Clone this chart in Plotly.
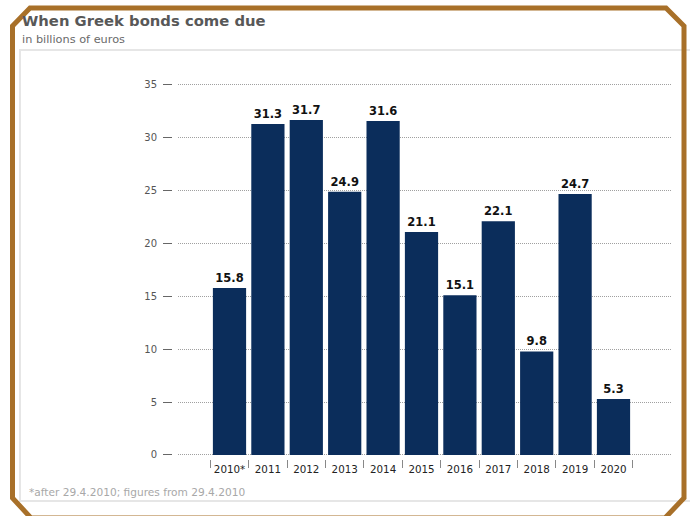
import plotly.graph_objects as go

years = ["2010*", "2011", "2012", "2013", "2014", "2015", "2016", "2017", "2018", "2019", "2020"]
values = [15.8, 31.3, 31.7, 24.9, 31.6, 21.1, 15.1, 22.1, 9.8, 24.7, 5.3]
y_ticks = [0, 5, 10, 15, 20, 25, 30, 35]

W, H = 694, 516
def px(x):
    return x / W
def py(y):
    return 1 - y / H

BAR = "#0b2d5b"
FRAME = "#a87029"
FONT = "DejaVu Sans"

fig = go.Figure()
fig.add_trace(go.Bar(
    x=years, y=values,
    marker=dict(color=BAR, line=dict(width=0)),
    text=[f"{v:.1f}" for v in values],
    textposition="outside",
    textfont=dict(family=FONT, size=11.5, color="#111111", weight="bold"),
    cliponaxis=False,
    hoverinfo="skip",
))

# pixel geometry
y0_px, unit = 455.0, 370.0 / 35.0
ymin, ymax = -0.3, 36.0
dom_bottom = y0_px + (0 - ymin) * unit
dom_top = y0_px - (ymax - 0) * unit

step = 38.4
c0 = 229.5
x_left, x_right = 178, 672
xr0 = (x_left - c0) / step
xr1 = (x_right - c0) / step

fig.update_layout(
    width=W, height=H,
    margin=dict(l=0, r=0, t=0, b=0, autoexpand=False),
    paper_bgcolor="white", plot_bgcolor="white",
    showlegend=False,
    bargap=0.135,
    font=dict(family=FONT),
    xaxis=dict(
        domain=[px(x_left), px(x_right)],
        range=[xr0, xr1],
        anchor="free", position=py(459),
        showgrid=False, zeroline=False, showline=False,
        ticks="outside", ticklen=8, tickwidth=1, tickcolor="#888888",
        tickson="boundaries", tickangle=0,
        ticklabelstandoff=3,
        tickfont=dict(family=FONT, size=10.3, color="#222222"),
        fixedrange=True,
    ),
    yaxis=dict(
        domain=[py(dom_bottom), py(dom_top)],
        range=[ymin, ymax],
        anchor="free", position=px(172),
        tickvals=y_ticks,
        showgrid=True, griddash="1px,1px", gridcolor="#a0a0a0", gridwidth=1,
        zeroline=False, showline=False,
        ticks="outside", ticklen=9, tickwidth=1, tickcolor="#666666",
        ticklabelstandoff=4,
        tickfont=dict(family=FONT, size=10, color="#555555"),
        fixedrange=True,
    ),
)

# panel border (light grey)
fig.add_shape(type="path", xref="paper", yref="paper",
              path=f"M {px(690)} {py(50)} L {px(20)} {py(50)} L {px(20)} {py(501)} L {px(690)} {py(501)}",
              line=dict(color="#e6e6e6", width=2), layer="below")

# octagonal frame
pts = [(12.5, 26), (30, 8), (666, 8), (684, 26), (684, 498), (665, 518),
       (31, 518), (12.5, 498), (12.5, 26)]
path = "M " + " L ".join(f"{px(x)} {py(y)}" for x, y in pts) + " Z"
fig.add_shape(type="path", xref="paper", yref="paper", path=path,
              line=dict(color=FRAME, width=5), layer="above")

fig.add_annotation(text="<b>When Greek bonds come due</b>", xref="paper", yref="paper",
                   x=px(20), y=py(21), xanchor="left", yanchor="middle", showarrow=False,
                   font=dict(family=FONT, size=14.8, color="#585858"))
fig.add_annotation(text="in billions of euros", xref="paper", yref="paper",
                   x=px(20), y=py(39), xanchor="left", yanchor="middle", showarrow=False,
                   font=dict(family=FONT, size=11.3, color="#6a6a6a"))
fig.add_annotation(text="*after 29.4.2010; figures from 29.4.2010", xref="paper", yref="paper",
                   x=px(27), y=py(492), xanchor="left", yanchor="middle", showarrow=False,
                   font=dict(family=FONT, size=10.6, color="#a8a8a8"))

fig.write_html("out.html")
